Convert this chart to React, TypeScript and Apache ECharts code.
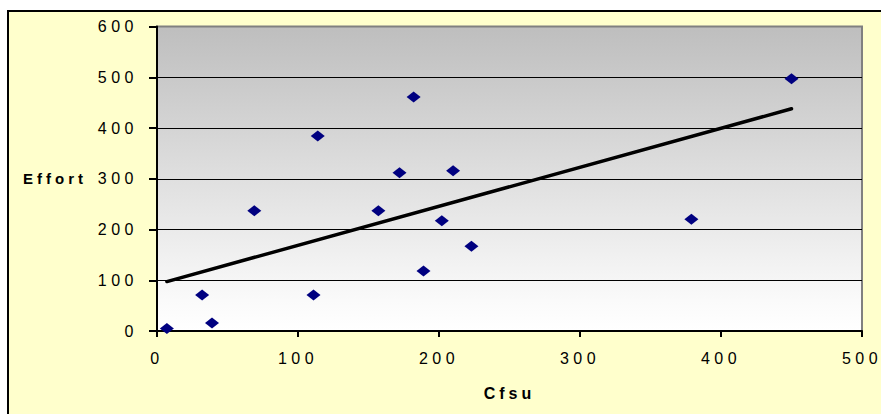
import React, { useEffect, useRef } from "react";
import * as echarts from "echarts";

// Data
const cfsu = [7, 32, 39, 69, 111, 114, 157, 172, 182, 189, 202, 210, 223, 379, 450];
const effort = [5, 71, 16, 237, 71, 384, 237, 312, 461, 118, 217, 316, 167, 220, 497];

// Axis tick settings
const xTicks = [0, 100, 200, 300, 400, 500];
const yTicks = [0, 100, 200, 300, 400, 500, 600];

const xName = "Cfsu";
const yName = "Effort";

function linearFit(xs: number[], ys: number[]) {
  const n = xs.length;
  const mx = xs.reduce((a, b) => a + b, 0) / n;
  const my = ys.reduce((a, b) => a + b, 0) / n;
  let sxy = 0;
  let sxx = 0;
  for (let i = 0; i < n; i++) {
    sxy += (xs[i] - mx) * (ys[i] - my);
    sxx += (xs[i] - mx) * (xs[i] - mx);
  }
  const slope = sxy / sxx;
  return { slope, intercept: my - slope * mx };
}

export default function App() {
  const ref = useRef<HTMLDivElement>(null);

  useEffect(() => {
    if (!ref.current) return;
    const chart = echarts.init(ref.current, undefined, { renderer: "svg" });
    const fit = linearFit(cfsu, effort);
    const minX = Math.min(...cfsu);
    const maxX = Math.max(...cfsu);
    const trend = [
      [minX, fit.intercept + fit.slope * minX],
      [maxX, fit.intercept + fit.slope * maxX],
    ];
    const font = '"Liberation Sans", Arial, sans-serif';
    const splitColors = yTicks.map((v, i) => (i === yTicks.length - 1 ? "#808080" : "#000000"));

    chart.setOption({
      animation: false,
      backgroundColor: "#ffffff",
      graphic: [
        {
          type: "rect",
          z: -10,
          silent: true,
          shape: { x: 8, y: 11, width: 920, height: 450 },
          style: { fill: "#FFFFCC", stroke: "#000000", lineWidth: 2 },
        },
      ],
      grid: {
        left: 157,
        right: 19,
        top: 26.5,
        bottom: 83,
        show: true,
        borderColor: "#808080",
        borderWidth: 2,
        backgroundColor: new echarts.graphic.LinearGradient(0, 0, 0, 1, [
          { offset: 0, color: "#BEBEBE" },
          { offset: 0.9, color: "#FAFAFA" },
          { offset: 1, color: "#FFFFFF" },
        ]),
      },
      xAxis: {
        type: "value",
        min: xTicks[0],
        max: xTicks[xTicks.length - 1],
        interval: xTicks[1] - xTicks[0],
        name: xName,
        nameLocation: "middle",
        nameGap: 62,
        nameTextStyle: {
          fontFamily: font,
          fontWeight: "bold",
          fontSize: 16,
          color: "#000",
          verticalAlign: "middle",
        },
        axisLine: { show: true, onZero: false, lineStyle: { color: "#000", width: 2 } },
        axisTick: { show: true, length: 6, lineStyle: { color: "#000", width: 2 } },
        axisLabel: { fontFamily: font, fontSize: 16, color: "#000", margin: 19 },
        splitLine: { show: false },
      },
      yAxis: {
        type: "value",
        min: yTicks[0],
        max: yTicks[yTicks.length - 1],
        interval: yTicks[1] - yTicks[0],
        name: yName,
        nameLocation: "middle",
        nameRotate: 0,
        nameGap: 70,
        nameTextStyle: {
          fontFamily: font,
          fontWeight: "bold",
          fontSize: 15,
          color: "#000",
          align: "right",
          verticalAlign: "middle",
        },
        axisLine: { show: true, onZero: false, lineStyle: { color: "#000", width: 2 } },
        axisTick: { show: true, length: 8, lineStyle: { color: "#000", width: 2 } },
        axisLabel: { fontFamily: font, fontSize: 16, color: "#000", margin: 19 },
        splitLine: { show: true, lineStyle: { color: splitColors, width: 1 } },
      },
      series: [
        {
          type: "scatter",
          data: cfsu.map((x, i) => [x, effort[i]]),
          symbol: "diamond",
          symbolSize: [14, 11],
          itemStyle: { color: "#000080", opacity: 1 },
          z: 2,
        },
        {
          type: "line",
          data: trend,
          showSymbol: false,
          symbol: "none",
          lineStyle: { color: "#000", width: 3.5, cap: "round" },
          z: 3,
        },
      ],
    });

    return () => chart.dispose();
  }, []);

  return (
    <>
      <style>{`
        .chartbox text { letter-spacing: 4.5px; }
        .chartbox text[style*="bold"] { letter-spacing: 4px; }
        .chartbox text[style*="bold 16px"] { letter-spacing: 5px; }
      `}</style>
      <div
        ref={ref}
        className="chartbox"
        style={{ position: "fixed", left: 0, top: 0, width: 881, height: 414 }}
      />
    </>
  );
}
